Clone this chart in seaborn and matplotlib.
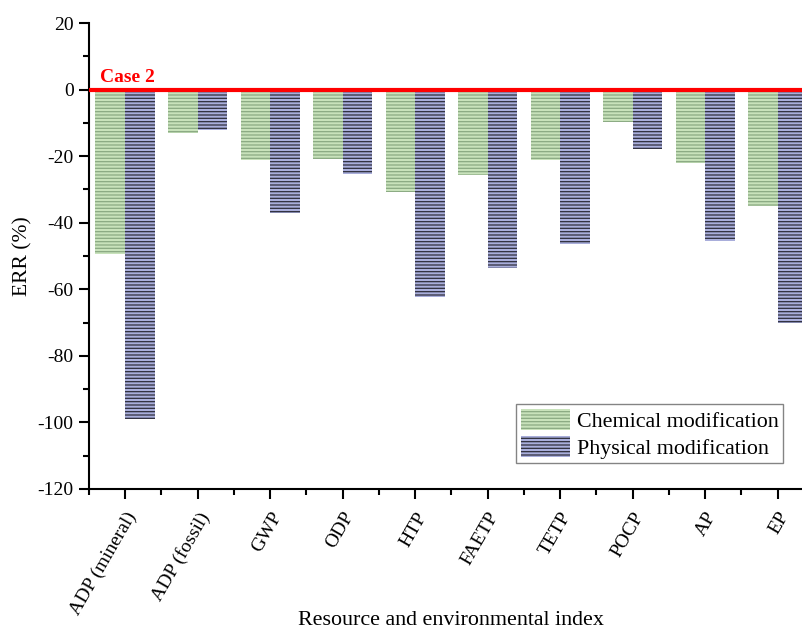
import matplotlib
matplotlib.use("Agg")
import matplotlib.pyplot as plt
import seaborn as sns
import pandas as pd
from matplotlib.ticker import MultipleLocator, FixedLocator
from matplotlib.patches import Patch

categories = ["ADP (mineral)", "ADP (fossil)", "GWP", "ODP", "HTP",
              "FAETP", "TETP", "POCP", "AP", "EP"]
chemical = [-49.4, -13.0, -21.1, -20.8, -30.8, -25.7, -21.1, -9.7, -22.0, -35.0]
physical = [-98.9, -12.1, -37.1, -25.4, -62.3, -53.6, -46.4, -17.8, -45.5, -70.1]
series_names = ["Chemical modification", "Physical modification"]

df = pd.DataFrame({
    "index": categories * 2,
    "ERR": chemical + physical,
    "series": [series_names[0]] * len(categories) + [series_names[1]] * len(categories),
})

sns.set_style("ticks", {"axes.edgecolor": "black", "text.color": "black",
                        "axes.labelcolor": "black", "xtick.color": "black",
                        "ytick.color": "black"})
plt.rcParams["font.family"] = ["Liberation Serif", "DejaVu Serif"]
plt.rcParams["axes.unicode_minus"] = False
plt.rcParams["hatch.linewidth"] = 0.9

fig = plt.figure(figsize=(8.03, 6.29), dpi=100)
ax = fig.add_axes([0.1108, 0.2226, 0.9029, 0.7408])

face = {series_names[0]: "#c8e2bb", series_names[1]: "#a9aedb"}
hatch_col = {series_names[0]: "#8aa982", series_names[1]: "#2e2e3c"}

sns.barplot(data=df, x="index", y="ERR", hue="series", order=categories,
            hue_order=series_names, palette=face, width=0.82, dodge=True,
            gap=0, ax=ax, legend=False, saturation=1)

n = len(categories)
for i, bar in enumerate(ax.patches[:2 * n]):
    s = series_names[i // n]
    bar.set_facecolor(face[s])
    bar.set_edgecolor(hatch_col[s])
    bar.set_hatch("-----")
    bar.set_linewidth(0)

ax.axhline(0, color="#ff0000", lw=3, zorder=5)
ax.text(-0.35, 2.4, "Case 2", color="#ff0000", fontsize=14, fontweight="bold",
        ha="left", va="baseline")

ax.set_ylim(-120, 20)
ax.set_xlim(-0.5, n - 0.5)
ax.yaxis.set_major_locator(MultipleLocator(20))
ax.yaxis.set_minor_locator(MultipleLocator(10))
ax.xaxis.set_minor_locator(FixedLocator([i + 0.5 for i in range(-1, n)]))
ax.tick_params(axis="both", which="major", direction="out", length=7.5, width=1.5,
               labelsize=14, color="black", labelcolor="black")
ax.tick_params(axis="x", which="major", pad=7)
ax.tick_params(axis="both", which="minor", direction="out", length=4, width=1.5,
               color="black")
ax.set_xticks(range(n))
ax.set_xticklabels(categories, rotation=60, ha="right", va="top",
                   rotation_mode="anchor", fontsize=14)

for sp in ["top", "right"]:
    ax.spines[sp].set_visible(False)
for sp in ["left", "bottom"]:
    ax.spines[sp].set_linewidth(1.5)
    ax.spines[sp].set_color("black")

ax.set_ylabel("ERR (%)", fontsize=15.5, labelpad=4, color="black")
ax.set_xlabel("")
fig.text(0.562, 0.006, "Resource and environmental index", fontsize=15.8,
         ha="center", va="baseline", color="black")

handles = [Patch(facecolor=face[s], edgecolor=hatch_col[s], hatch="-----",
                 linewidth=0) for s in series_names]
leg = ax.legend(handles, series_names, loc="lower right",
                bbox_to_anchor=(0.957, 0.0558), fontsize=15.8, frameon=True,
                fancybox=False, edgecolor="#666666", handlelength=2.25,
                handleheight=1.1, borderpad=0.2, labelspacing=0.18,
                handletextpad=0.3, borderaxespad=0)
leg.get_frame().set_linewidth(1.0)
for t in leg.get_texts():
    t.set_color("black")

fig.savefig("out.png", dpi=100)
